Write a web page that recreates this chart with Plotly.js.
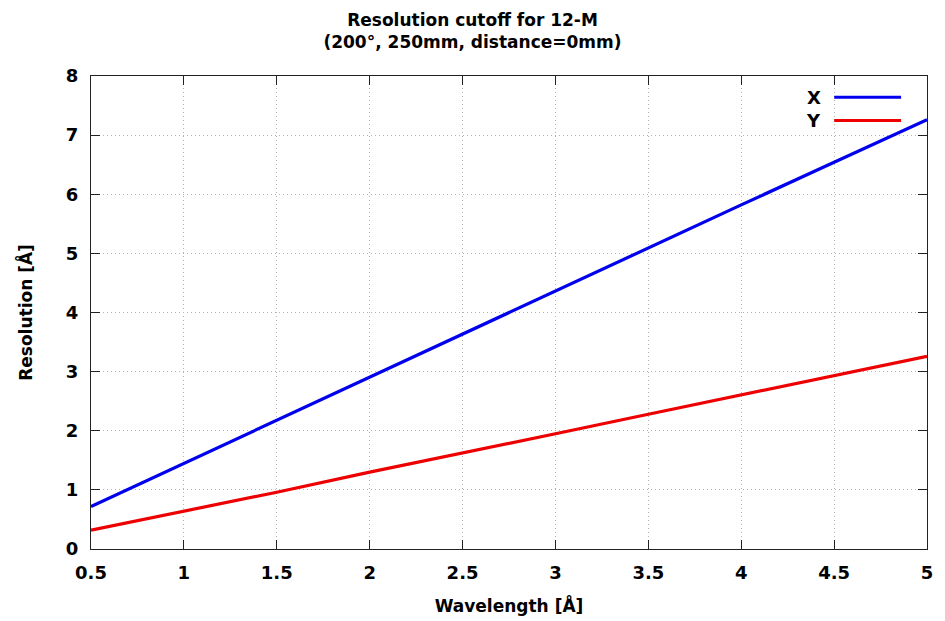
<!DOCTYPE html>
<html>
<head>
<meta charset="utf-8">
<script src="https://cdn.plot.ly/plotly-3.0.1.min.js"></script>
<style>html,body{margin:0;padding:0;background:#fff;}#chart{width:945px;height:621px;}</style>
</head>
<body>
<div id="chart"></div>
<script>
const wavelength = [0.5, 1.0, 1.5, 2.0, 2.5, 3.0, 3.5, 4.0, 4.5, 5.0];
const resX = [0.72, 1.45, 2.18, 2.91, 3.64, 4.37, 5.09, 5.82, 6.54, 7.26];
const resY = [0.32, 0.64, 0.96, 1.30, 1.62, 1.95, 2.28, 2.61, 2.93, 3.26];
const seriesNames = ['X', 'Y'];
const seriesColors = ['#0000ee', '#ee0000'];
const xTicks = [0.5, 1, 1.5, 2, 2.5, 3, 3.5, 4, 4.5, 5];
const yTicks = [0, 1, 2, 3, 4, 5, 6, 7, 8];

const fontFam = 'DejaVu Sans, sans-serif';
const traces = [
  {x: wavelength, y: resX, name: seriesNames[0], mode: 'lines', line: {color: seriesColors[0], width: 3.2}},
  {x: wavelength, y: resY, name: seriesNames[1], mode: 'lines', line: {color: seriesColors[1], width: 3.2}}
];

const axisCommon = {
  showline: true, mirror: 'ticks', linecolor: '#222', linewidth: 1,
  ticks: 'inside', ticklen: 9, tickcolor: '#222', tickwidth: 1,
  showgrid: true, gridcolor: '#b4b4b4', griddash: '1px,3px', gridwidth: 1,
  zeroline: false,
  tickfont: {family: fontFam, size: 18, color: '#000', weight: 'bold'}
};

const layout = {
  width: 945, height: 621,
  margin: {l: 91, r: 18, t: 76, b: 72},
  paper_bgcolor: '#fff', plot_bgcolor: '#fff',
  showlegend: false,
  title: {
    text: 'Resolution cutoff for 12-M<br>(200°, 250mm, distance=0mm)',
    font: {family: fontFam, size: 17, color: '#000', weight: 'bold'},
    x: 0.5, xanchor: 'center', y: 0.958, yanchor: 'top'
  },
  xaxis: Object.assign({}, axisCommon, {
    range: [0.5, 5], tickvals: xTicks, ticktext: xTicks.map(String),
    ticklabelstandoff: 7,
    title: {text: 'Wavelength [Å]', font: {family: fontFam, size: 17, color: '#000', weight: 'bold'}, standoff: 18}
  }),
  yaxis: Object.assign({}, axisCommon, {
    range: [0, 8], tickvals: yTicks, ticktext: yTicks.map(String),
    ticklabelstandoff: 8,
    title: {text: 'Resolution [Å]', font: {family: fontFam, size: 17, color: '#000', weight: 'bold'}, standoff: 28}
  }),
  annotations: seriesNames.map((n, i) => ({
    xref: 'paper', yref: 'paper', x: 0.875, y: 0.955 - i * 0.049,
    xanchor: 'right', yanchor: 'middle', showarrow: false, text: n,
    font: {family: fontFam, size: 18, color: '#000', weight: 'bold'}
  })),
  shapes: seriesNames.map((n, i) => ({
    type: 'line', xref: 'paper', yref: 'paper',
    x0: 0.889, x1: 0.969, y0: 0.955 - i * 0.049, y1: 0.955 - i * 0.049,
    line: {color: seriesColors[i], width: 3}
  }))
};

Plotly.newPlot('chart', traces, layout, {displayModeBar: false, staticPlot: true});
</script>
</body>
</html>
